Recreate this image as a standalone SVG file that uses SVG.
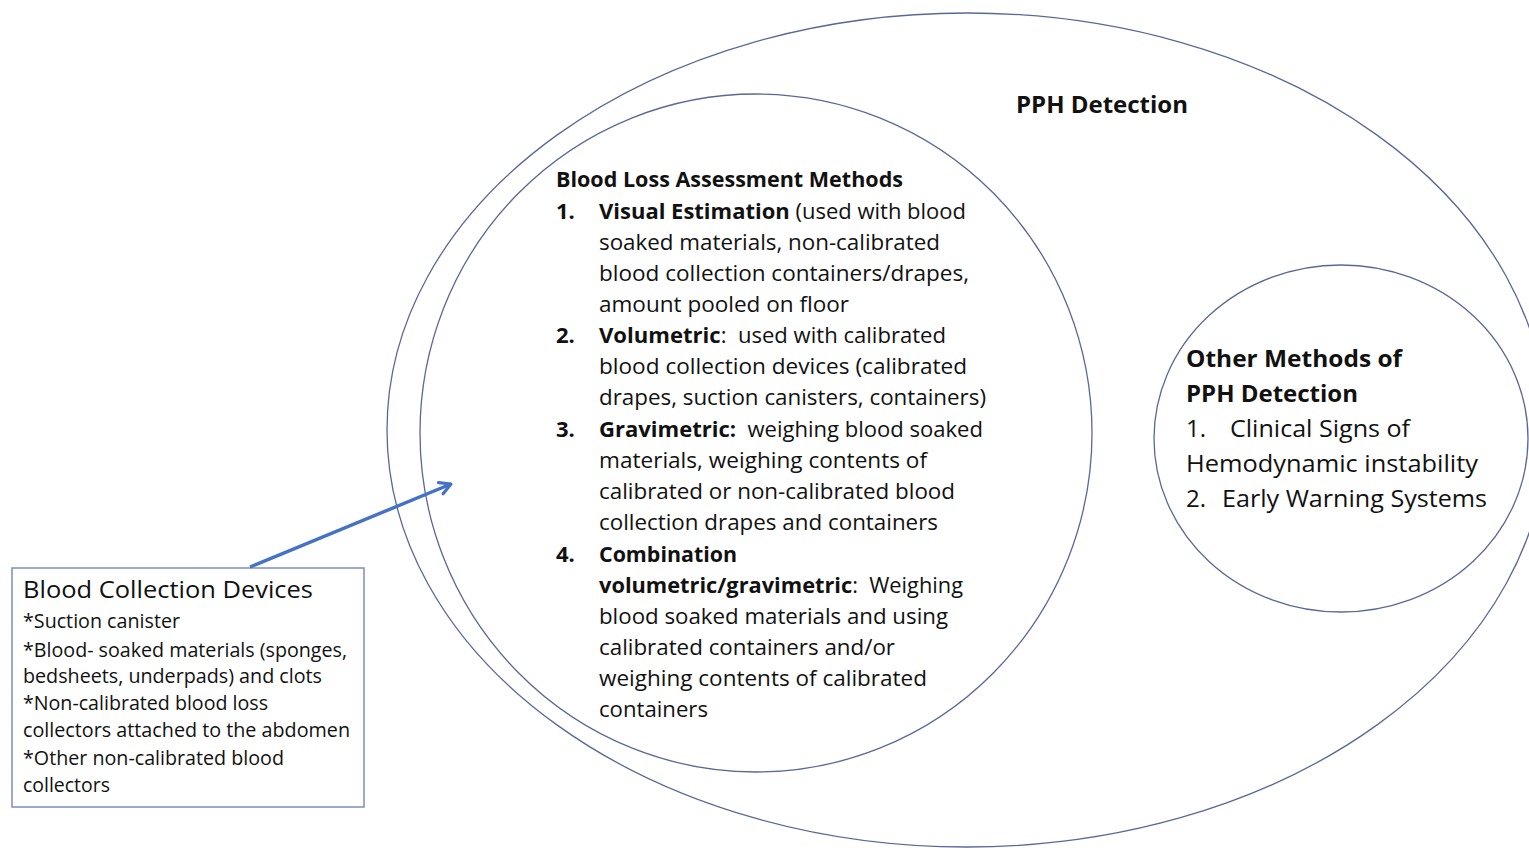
<svg xmlns="http://www.w3.org/2000/svg" width="1529" height="848" viewBox="0 0 1529 848">
<style>
text{font-family:"Open Sans","Liberation Sans",sans-serif;fill:#111;white-space:pre;}
.ring{fill:none;stroke:#5b6896;stroke-width:1.3;}
.t22{font-size:22px;}
.t20{font-size:19.5px;}
.t24{font-size:24px;}
.b{font-weight:bold;}
</style>
<defs>
<marker id="arr" viewBox="0 0 16 16" refX="13" refY="8" markerWidth="16" markerHeight="16" markerUnits="userSpaceOnUse" orient="auto">
<polyline points="2,2 13,8 2,14" fill="none" stroke="#4472c4" stroke-width="3.2" stroke-linecap="round" stroke-linejoin="round"/>
</marker>
</defs>
<rect width="1529" height="848" fill="#fff"/>
<g id="pph-detection">
<ellipse class="ring" cx="967" cy="430" rx="580" ry="417"/>
<text class="t24 b" x="1016" y="113" textLength="172" lengthAdjust="spacingAndGlyphs">PPH Detection</text>
</g>
<g id="blood-loss-methods">
<ellipse class="ring" cx="756" cy="433" rx="336" ry="339"/>
<g class="t22">
<text class="b" x="556" y="187" textLength="347" lengthAdjust="spacingAndGlyphs">Blood Loss Assessment Methods</text>
<text class="b" x="556" y="219">1.</text>
<text x="599" y="219" textLength="367" lengthAdjust="spacingAndGlyphs"><tspan class="b">Visual Estimation</tspan> (used with blood</text>
<text x="599" y="250" textLength="341" lengthAdjust="spacingAndGlyphs">soaked materials, non-calibrated</text>
<text x="599" y="281" textLength="370" lengthAdjust="spacingAndGlyphs">blood collection containers/drapes,</text>
<text x="599" y="312" textLength="250" lengthAdjust="spacingAndGlyphs">amount pooled on floor</text>
<text class="b" x="556" y="343">2.</text>
<text x="599" y="343" textLength="347" lengthAdjust="spacingAndGlyphs"><tspan class="b">Volumetric</tspan>:  used with calibrated</text>
<text x="599" y="374" textLength="368" lengthAdjust="spacingAndGlyphs">blood collection devices (calibrated</text>
<text x="599" y="405" textLength="387" lengthAdjust="spacingAndGlyphs">drapes, suction canisters, containers)</text>
<text class="b" x="556" y="437">3.</text>
<text x="599" y="437" textLength="384" lengthAdjust="spacingAndGlyphs"><tspan class="b">Gravimetric:</tspan>  weighing blood soaked</text>
<text x="599" y="468" textLength="328" lengthAdjust="spacingAndGlyphs">materials, weighing contents of</text>
<text x="599" y="499" textLength="356" lengthAdjust="spacingAndGlyphs">calibrated or non-calibrated blood</text>
<text x="599" y="530" textLength="339" lengthAdjust="spacingAndGlyphs">collection drapes and containers</text>
<text class="b" x="556" y="562">4.</text>
<text class="b" x="599" y="562" textLength="138" lengthAdjust="spacingAndGlyphs">Combination</text>
<text x="599" y="593" textLength="364" lengthAdjust="spacingAndGlyphs"><tspan class="b">volumetric/gravimetric</tspan>:  Weighing</text>
<text x="599" y="624" textLength="349" lengthAdjust="spacingAndGlyphs">blood soaked materials and using</text>
<text x="599" y="655" textLength="296" lengthAdjust="spacingAndGlyphs">calibrated containers and/or</text>
<text x="599" y="686" textLength="328" lengthAdjust="spacingAndGlyphs">weighing contents of calibrated</text>
<text x="599" y="717" textLength="109" lengthAdjust="spacingAndGlyphs">containers</text>
</g>
</g>
<g id="other-methods">
<ellipse class="ring" cx="1341" cy="438.5" rx="187" ry="173.5"/>
<g class="t24">
<text class="b" x="1186" y="367" textLength="216" lengthAdjust="spacingAndGlyphs">Other Methods of</text>
<text class="b" x="1186" y="402" textLength="172" lengthAdjust="spacingAndGlyphs">PPH Detection</text>
<text x="1186" y="437">1.</text>
<text x="1230" y="437" textLength="180" lengthAdjust="spacingAndGlyphs">Clinical Signs of</text>
<text x="1186" y="472" textLength="292" lengthAdjust="spacingAndGlyphs">Hemodynamic instability</text>
<text x="1186" y="507">2.</text>
<text x="1222" y="507" textLength="265" lengthAdjust="spacingAndGlyphs">Early Warning Systems</text>
</g>
</g>
<g id="blood-collection-devices">
<rect x="12" y="568" width="352" height="239" fill="#fff" stroke="#7f8dbd" stroke-width="1.5"/>
<text class="t24" x="23" y="598" textLength="290" lengthAdjust="spacingAndGlyphs">Blood Collection Devices</text>
<g class="t20">
<text x="23" y="628" textLength="157" lengthAdjust="spacingAndGlyphs">*Suction canister</text>
<text x="23" y="657" textLength="324" lengthAdjust="spacingAndGlyphs">*Blood- soaked materials (sponges,</text>
<text x="23" y="683" textLength="299" lengthAdjust="spacingAndGlyphs">bedsheets, underpads) and clots</text>
<text x="23" y="710" textLength="245" lengthAdjust="spacingAndGlyphs">*Non-calibrated blood loss</text>
<text x="23" y="737" textLength="327" lengthAdjust="spacingAndGlyphs">collectors attached to the abdomen</text>
<text x="23" y="765" textLength="261" lengthAdjust="spacingAndGlyphs">*Other non-calibrated blood</text>
<text x="23" y="792" textLength="87" lengthAdjust="spacingAndGlyphs">collectors</text>
</g>
</g>
<g id="connectors">
<line x1="250" y1="567" x2="451" y2="484" stroke="#4472c4" stroke-width="3.4" marker-end="url(#arr)"/>
</g>
</svg>
